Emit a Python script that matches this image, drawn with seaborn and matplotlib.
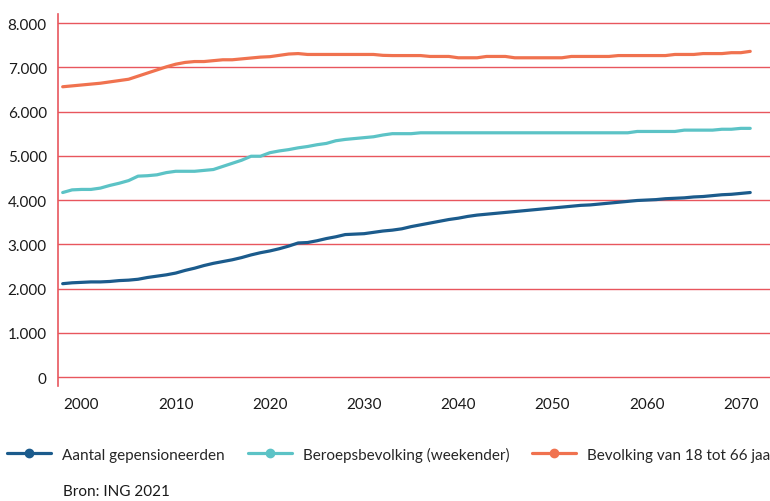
import pandas as pd
import seaborn as sns
import matplotlib.pyplot as plt
from matplotlib.lines import Line2D
from matplotlib.ticker import FuncFormatter

# Years on the x axis
years = list(range(1998, 2072))

# Aantal gepensioneerden (x 1.000)
gepensioneerden = [
    2110, 2130, 2140, 2150, 2150, 2160, 2180, 2190, 2210, 2250,
    2280, 2310, 2350, 2410, 2460, 2520, 2570, 2610, 2650, 2700,
    2760, 2810, 2850, 2900, 2960, 3030, 3040, 3080, 3130, 3170,
    3220, 3230, 3240, 3270, 3300, 3320, 3350, 3400, 3440, 3480,
    3520, 3560, 3590, 3630, 3660, 3680, 3700, 3720, 3740, 3760,
    3780, 3800, 3820, 3840, 3860, 3880, 3890, 3910, 3930, 3950,
    3970, 3990, 4000, 4010, 4030, 4040, 4050, 4070, 4080, 4100,
    4120, 4130, 4150, 4170,
]

# Beroepsbevolking (weekender)
beroepsbevolking = [
    4170, 4230, 4240, 4240, 4270, 4330, 4380, 4440, 4540, 4550,
    4570, 4620, 4650, 4650, 4650, 4670, 4690, 4760, 4830, 4900,
    4990, 4990, 5070, 5110, 5140, 5180, 5210, 5250, 5280, 5340,
    5370, 5390, 5410, 5430, 5470, 5500, 5500, 5500, 5520, 5520,
    5520, 5520, 5520, 5520, 5520, 5520, 5520, 5520, 5520, 5520,
    5520, 5520, 5520, 5520, 5520, 5520, 5520, 5520, 5520, 5520,
    5520, 5550, 5550, 5550, 5550, 5550, 5580, 5580, 5580, 5580,
    5600, 5600, 5620, 5620,
]

# Bevolking van 18 tot 66 jaar
bevolking = [
    6560, 6580, 6600, 6620, 6640, 6670, 6700, 6730, 6800, 6870,
    6940, 7010, 7070, 7110, 7130, 7130, 7150, 7170, 7170, 7190,
    7210, 7230, 7240, 7270, 7300, 7310, 7290, 7290, 7290, 7290,
    7290, 7290, 7290, 7290, 7270, 7265, 7265, 7265, 7265, 7245,
    7245, 7245, 7215, 7215, 7215, 7245, 7245, 7245, 7215, 7215,
    7215, 7215, 7215, 7215, 7245, 7245, 7245, 7245, 7245, 7265,
    7265, 7265, 7265, 7265, 7265, 7290, 7290, 7290, 7310, 7310,
    7310, 7330, 7330, 7360,
]

series_names = [
    'Aantal gepensioneerden',
    'Beroepsbevolking (weekender)',
    'Bevolking van 18 tot 66 jaar',
]
colors = ['#1b5b8c', '#5cc3c6', '#f0724f']

df = pd.DataFrame({'jaar': years,
                   series_names[0]: gepensioneerden,
                   series_names[1]: beroepsbevolking,
                   series_names[2]: bevolking})
long = df.melt(id_vars='jaar', var_name='reeks', value_name='waarde')

sns.set_style('white')
plt.rcParams['font.family'] = ['Lato', 'DejaVu Sans']

fig = plt.figure(figsize=(7.7, 5.02), dpi=100)
ax = fig.add_axes([0.0753, 0.229, 0.9247, 0.741])

grid_color = '#e8565d'
for v in range(0, 8001, 1000):
    ax.axhline(v, color=grid_color, lw=1.0, zorder=0)

sns.lineplot(data=long, x='jaar', y='waarde', hue='reeks',
             palette=dict(zip(series_names, colors)), linewidth=2.3,
             legend=False, ax=ax, zorder=3)

ax.set_xlim(1997.5, 2073.1)
ax.set_ylim(-203, 8203)
ax.set_xticks(range(2000, 2071, 10))
ax.set_yticks(range(0, 8001, 1000))
ax.yaxis.set_major_formatter(FuncFormatter(lambda v, p: f'{int(v):,}'.replace(',', '.')))
ax.tick_params(axis='both', length=0, labelsize=11, colors='#1a1a1a')
ax.tick_params(axis='x', pad=8)
ax.tick_params(axis='y', pad=8)
ax.set_xlabel('')
ax.set_ylabel('')

for side in ['top', 'right', 'bottom']:
    ax.spines[side].set_visible(False)
ax.spines['left'].set_color(grid_color)
ax.spines['left'].set_linewidth(1.2)

handles = [Line2D([0], [0], color=c, lw=2.3, marker='o', markersize=6)
           for c in colors]
fig.legend(handles, series_names, loc='center left',
           bbox_to_anchor=(7 / 770, 1 - 455 / 502), ncol=3, frameon=False,
           handlelength=2.9, handletextpad=0.7, columnspacing=1.5,
           borderaxespad=0, borderpad=0,
           prop={'size': 11})

fig.text(63 / 770, 1 - 492 / 502, 'Bron: ING 2021',
         fontsize=11, color='#1a1a1a', va='center', ha='left')

fig.savefig('out.png', dpi=100)
